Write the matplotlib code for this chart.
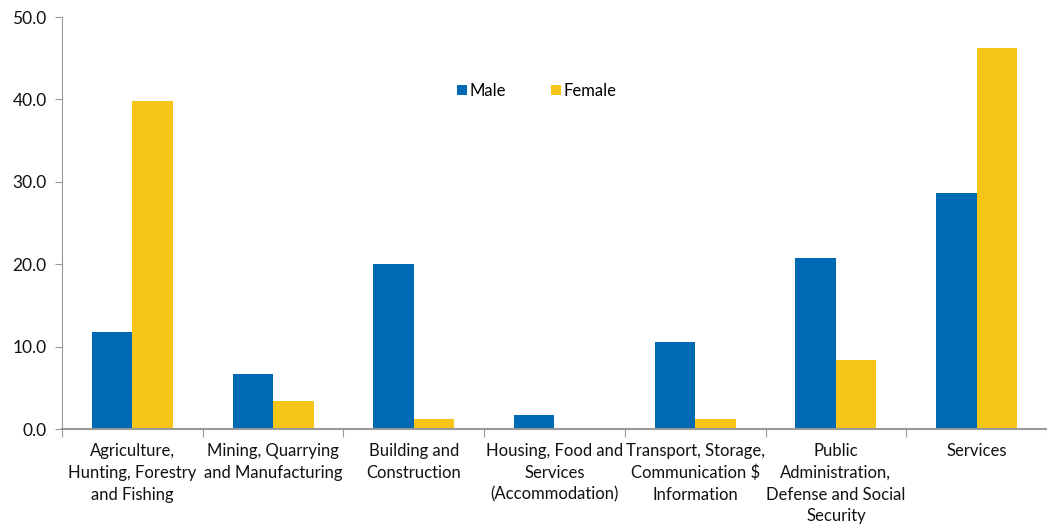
import matplotlib
matplotlib.use("Agg")
import matplotlib.pyplot as plt
import numpy as np

categories = [
    "Agriculture,\nHunting, Forestry\nand Fishing",
    "Mining, Quarrying\nand Manufacturing",
    "Building and\nConstruction",
    "Housing, Food and\nServices\n(Accommodation)",
    "Transport, Storage,\nCommunication $\nInformation",
    "Public\nAdministration,\nDefense and Social\nSecurity",
    "Services",
]
male = [11.8, 6.7, 20.0, 1.7, 10.6, 20.8, 28.6]
female = [39.8, 3.4, 1.2, 0.0, 1.2, 8.4, 46.2]
yticks = [0, 10, 20, 30, 40, 50]

plt.rcParams['font.family'] = ['Lato', 'DejaVu Sans']

W, H = 1047, 527
fig = plt.figure(figsize=(W/100, H/100), dpi=100)
left, bottom, top = 62, 429, 17
cat_w = 142
ax = fig.add_axes([left/W, (H-bottom)/H, 1 - left/W, (bottom-top)/H])

blue = "#0069B4"
yellow = "#F5C518"
x = np.arange(len(categories))
bw = 0.288
ax.bar(x - bw/2, male, width=bw, color=blue, label="Male")
ax.bar(x + bw/2, female, width=bw, color=yellow, label="Female")

ax.set_xlim(-0.5, -0.5 + (W - left)/cat_w)
ax.set_ylim(0, 50)
ax.set_yticks(yticks)
ax.set_yticklabels([f"{v:.1f}" for v in yticks], fontsize=12.5, color="#111111")
ax.set_xticks(np.arange(len(categories) + 1) - 0.5, minor=False)
ax.set_xticklabels([])
ax.set_xticks(x, minor=True)
ax.set_xticklabels(categories, minor=True, fontsize=12, linespacing=1.45, color="#111111")
ax.tick_params(axis='x', which='minor', length=0, pad=10)
ax.tick_params(axis='x', which='major', length=6, color="#999999", direction='out')
ax.tick_params(axis='y', length=5, color="#999999", pad=6)

for s in ['top', 'right']:
    ax.spines[s].set_visible(False)
ax.spines['left'].set_color("#999999")
ax.spines['bottom'].set_color("#999999")
ax.spines['bottom'].set_linewidth(1.5)

ax.legend(loc='upper left', bbox_to_anchor=((450 - left)/(W - left), (H - 76 - (H-bottom))/(bottom-top)),
          ncol=2, frameon=False, fontsize=12, handlelength=0.6, handleheight=0.6,
          handletextpad=0.15, columnspacing=2.7, borderaxespad=0)

fig.savefig("out.png", dpi=100)
